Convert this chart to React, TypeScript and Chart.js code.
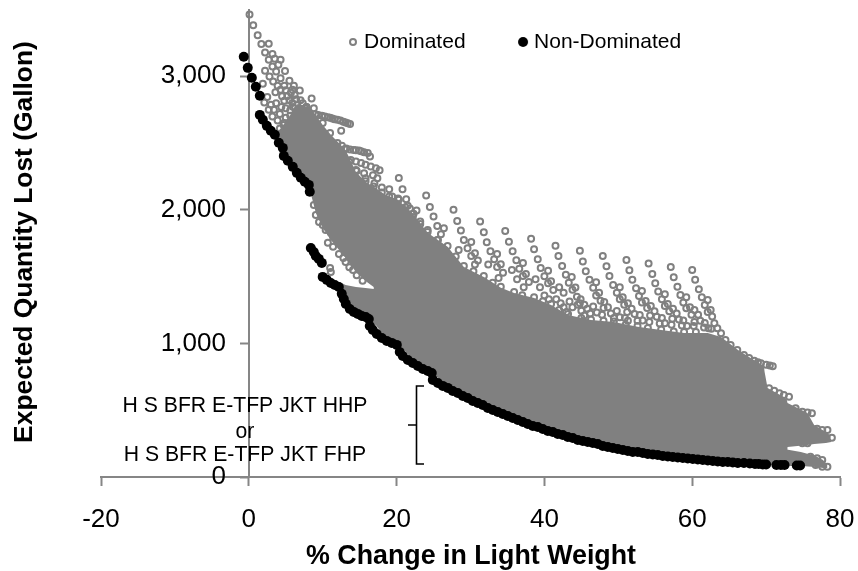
import React, { useEffect, useRef } from "react";
import { Chart, registerables } from "chart.js";

Chart.register(...registerables);

const xTickValues = [-20, 0, 20, 40, 60, 80];
const yTickValues = [0, 1000, 2000, 3000];
const FONT = '"Liberation Sans", Arial, sans-serif';
const GREY = "#868686";
const CLOUD = "#808080";

const nonDominated: number[][] = [
  [-0.68,3146],[-0.14,3063],[0.41,2989],[0.95,2921],[1.49,2854],[1.49,2711],[1.9,2674],[2.44,2629],[2.98,2592],[3.52,2562],
  [4.06,2502],[4.6,2464],[4.74,2404],[5.28,2367],[5.95,2322],[6.5,2277],[7.04,2240],[7.58,2210],[8.12,2187],[8.25,2135],
  [8.39,1715],[8.8,1685],[9.07,1655],[9.47,1633],[9.88,1603],[10.0,1498],[10.55,1476],[11.1,1453],[11.64,1438],[12.18,1423],
  [12.58,1371],[12.86,1333],[13.13,1296],[13.67,1258],[14.2,1236],[14.75,1221],[15.29,1206],[15.83,1198],[16.24,1183],
  [16.37,1131],[16.78,1101],[17.32,1071],[18,1041],[18.67,1019],[19.35,1004],[20.03,989],
  [20.43,936],[20.84,906],[21.52,876],[22.19,854],[22.87,831],[23.55,809],[24.22,794],[24.76,779],
  [24.9,727],[25.58,704],[26.25,682],[26.93,667],[27.6,644],[28.28,629],[28.96,607],[29.63,592],[30.31,569],[30.99,554],
  [31.66,539],[32.34,517],[33.02,502],[33.69,487],[34.37,472],[35.05,457],[35.72,442],[36.4,427],[37.08,412],[37.75,397],
  [38.43,382],[39.11,375],[39.78,360],[40.46,345],[41.14,337],[41.81,322],[42.49,315],[43.17,300],[43.84,292],[44.52,277],
  [45.2,270],[45.87,262],[46.55,255],[47.23,247],[47.9,232],[48.58,225],[49.26,217],[49.93,210],[50.61,202],[51.29,195],
  [51.96,187],[52.64,187],[53.32,180],[53.99,172],[54.67,169],[55.34,165],[56.02,157],[56.7,154],[57.37,150],[58.05,146],
  [58.73,142],[59.4,139],[60.08,135],[60.76,131],[61.43,127],[62.11,124],[62.79,120],[63.46,116],[64.14,112],[64.82,112],
  [65.49,109],[66.17,105],[67,105],[67.8,101],[68.5,97],[69,97],[69.55,94],[70,94],[71.4,90],[72,90],[72.5,90],[74.15,86],[74.6,86],
];

const leftCluster: number[][] = [
  [0.1,3463],[0.6,3383],[1.2,3308],[1.7,3241],[2.7,3243],[2.2,3178],[3.2,3166],[2.7,3123],[3.5,3131],[4.3,3123],
  [3.2,3073],[4.0,3086],[3.7,3036],[4.9,3039],[2.2,3041],[2.8,2998],[3.3,2961],[4.3,2986],[5.5,2966],[1.9,2944],
  [3.9,2929],[4.3,2899],[4.8,2929],[6.9,2893],[5.7,2876],[2.5,2844],[8.5,2833],[2.1,2803],[3.7,2799],[3.0,2786],
  [4.8,2816],[6.4,2829],[7.3,2799],[2.7,2749],[3.4,2749],[3.2,2699],[4.2,2717],[5.6,2704],[3.9,2669],[4.7,2636],
  [6.1,2579],[6.6,2661],[5.2,2850],[5.9,2800],[6.6,2750],[7.4,2720],[5.0,2760],[5.4,2650],[6.0,2620],[7.0,2600],
  [4.6,2580],[5.2,2540],[7.8,2690],[8.4,2650],[7.6,2560],[8.6,2540],[6.4,2480],[7.4,2440],[8.8,2760],[5.4,2480],
  [9.0,2480],[10.0,2420],[8.2,2400],[9.4,2360],[3.6,2880],[6.1,2930],[7.8,2770],[8.0,2615],[4.4,2770],[5.0,2690],
  [5.9,2900],[6.2,2860],[5.0,2895],[6.0,2770],[7.0,2820],[7.6,2760],[8.1,2720],[4.5,2850],[5.5,2820],[6.8,2700],[6.3,2720],[5.6,2745],[4.8,2650],[4.2,2610],
];

const tailRings: number[][] = [
  [9.4,2711],[9.9,2705],[10.3,2699],[10.7,2694],[11.0,2689],[11.3,2684],[11.6,2679],[12.0,2674],[12.4,2669],[12.8,2660],[13.1,2654],[13.4,2648],[13.7,2642],
  [12.5,2592],[12.6,2480],[13.2,2460],[13.7,2452],[14.2,2449],[14.5,2446],[14.9,2444],[15.2,2438],[15.6,2432],[16.1,2425],[16.4,2399],
  [13.8,2374],[14.5,2362],[15.2,2350],[15.8,2337],[16.5,2324],[17.2,2312],[17.7,2297],[14.5,2299],[15.6,2275],[15.8,2237],[17.4,2237],
  [18,2167],[19,2155],[20.3,2075],[22.7,1995],[16.8,2260],[17.0,2200],[19.4,2100],[21.5,2030],
];

const fanRings: number[][] = [
  [20.3,2239],[20.8,2155],[21.3,2080],[21.8,2010],[22.2,1947],[22.7,1887],[23.2,1912],
  [24.0,2107],[24.5,2022],[25.0,1950],[25.5,1880],[26,1818],[26.4,1862],[25.6,1775],[24.2,1850],
  [27.7,2000],[28.2,1917],[28.7,1845],[29.1,1775],[29.6,1713],[30.1,1760],[30.1,1655],[30.6,1675],[31.0,1620],[30.6,1590],
  [31.3,1912],[31.8,1833],[32.2,1758],[32.7,1690],[33.2,1630],[33.6,1670],[33.6,1573],[34.1,1593],[34.4,1530],[33.8,1490],
  [34.7,1842],[35.2,1762],[35.7,1690],[36.2,1623],[36.6,1560],[37.1,1603],[37.1,1505],[37.5,1520],[37.9,1460],[37.2,1420],
  [38.2,1783],[38.6,1705],[39.1,1630],[39.5,1565],[40,1503],[40.5,1545],[40.5,1451],[40.9,1466],[40,1358],[41.2,1400],[40.6,1330],
  [41.5,1732],[41.9,1655],[42.4,1580],[42.9,1515],[43.3,1455],[43.7,1498],[43.8,1401],[44.2,1418],[43.4,1313],[43.8,1271],[44.4,1350],[44.8,1300],
  [44.8,1693],[45.2,1613],[45.6,1541],[46.1,1476],[46.6,1416],[47,1458],[47,1358],[47.4,1380],[46.6,1276],[47.1,1231],[47.6,1320],[48,1265],
  [47.9,1655],[48.4,1578],[48.8,1505],[49.3,1438],[49.8,1380],[50.2,1421],[50.2,1331],[50.6,1346],[49.8,1243],[50.2,1196],[50.8,1290],[51.2,1235],
  [51.1,1625],[51.5,1548],[51.9,1476],[52.4,1413],[52.8,1356],[53.2,1393],[53.2,1306],[53.7,1318],[52.9,1213],[53.3,1171],[53.9,1265],[54.3,1210],
  [54.1,1598],[54.6,1520],[55,1451],[55.4,1388],[55.9,1331],[56.3,1368],[56.3,1281],[56.7,1296],[55.9,1191],[56.3,1151],[56.9,1240],[57.3,1185],
  [57.1,1573],[57.5,1496],[58,1425],[58.4,1363],[58.8,1306],[59.2,1346],[59.2,1263],[59.7,1271],[58.8,1171],[59.3,1131],[59.9,1215],[60.3,1160],
  [60,1550],[60.4,1476],[60.9,1406],[61.3,1346],[61.7,1288],[62.1,1326],[62.1,1236],[62.5,1251],[62.7,1201],[61.7,1153],[62.2,1114],[63,1151],[63.4,1114],[63.9,1076],
  [64.5,1026],[65.2,989],[66.1,951],[67,914],[67.7,890],[68.4,871],[68.9,860],[69.3,851],[70,841],[70.5,834],[70.9,829],
];

const lowerFanRings: number[][] = [
  [41.6,1330],[42.2,1300],[42.6,1270],[43.0,1235],[44.5,1290],[45,1245],[45.4,1210],
  [44.9,1330],[45.4,1290],[45.8,1260],[46.2,1225],[47.8,1215],
  [48.1,1310],[48.6,1270],[49,1225],[49.4,1190],[50.9,1190],[51.3,1170],
  [51.3,1300],[51.8,1260],[52.2,1220],[52.6,1170],[54.2,1160],
  [54.4,1280],[54.9,1240],[55.2,1200],[55.6,1150],[57.2,1140],
  [57.4,1260],[57.9,1225],[58.2,1180],[58.6,1135],[60.2,1130],
  [60.3,1250],[60.8,1215],[61.1,1170],[61.6,1120],[62.6,1110],
  [28.4,1700],[32.4,1590],[35.6,1550],[38.8,1480],[36.3,1480],[39.4,1420],[42,1420],[42.6,1380],
];

const rightTipRings: number[][] = [
  [70.4,664],[71.1,646],[71.8,627],[72.4,614],[73.1,601],
  [74,514],[74.9,489],[75.6,482],[76.2,477],
  [76.9,362],[77.6,352],[78.3,352],
  [76.5,307],[77.4,297],[78.2,294],[78.9,294],
  [73.8,264],[74.9,252],[75.6,252],
  [76,152],[76.9,140],[77.6,127],
  [76.7,90],[77.6,77],[78.3,77],
];

const edgeRings: number[][] = [
  [7.8,2770],[9,2715],[10,2650],[11,2575],[12,2500],[13,2455],[13.6,2360],[14.6,2290],[15.8,2215],[16.9,2175],[18,2130],[19,2100],[20.2,2085],
  [21.2,2020],[22.3,1970],[23.2,1895],[24.2,1835],[25.5,1775],[26.9,1730],[28,1650],[29.1,1580],[30.4,1540],[31.8,1505],[33,1455],[34.1,1425],
  [35.9,1385],[37,1360],[38.6,1345],[39.8,1315],[40.9,1295],[42,1250],[43.2,1220],[45,1190],[46.3,1180],[48,1170],[49.4,1165],[51,1140],[52.6,1130],
  [54,1115],[55.8,1105],[57.5,1090],[58.9,1085],[60.5,1085],
  [8.8,2037],[9.07,1962],[9.5,1910],[10,1887],[10.4,1850],[11.1,1828],[11.4,1798],[10.7,1753],[11.4,1723],[13.1,1610],[14.1,1550],[11,1565],[11.1,1535],
  [12.2,1670],[12.8,1640],[13.6,1570],[14.6,1510],[15.4,1470],
];

const massX = [3.65,5.0,6.63,8.12,9.07,10.0,11.1,13.1,14.5,15.8,16.9,16.98,18.5,20.2,22.3,24.2,26.9,29.1,31.8,34.1,35.9,38.6,40.9,43.2,46.3,49.4,52.6,55.8,58.9,62.1,63.9,66.2,67.9,69.7,69.8,70.2,72.4,72.8,72.9,75.6,76.5,78.1,78.8];
const massTop = [2562,2659,2794,2764,2711,2636,2562,2449,2284,2210,2172,2172,2112,2075,1962,1828,1723,1573,1498,1416,1378,1341,1288,1213,1176,1161,1124,1101,1079,1079,1049,951,891,831,786,667,599,577,554,479,390,337,277];
const massBottom = [2547,2434,2284,2180,1977,1865,1775,1640,1535,1468,1423,1153,1041,1004,869,801,689,622,532,464,427,375,345,307,270,217,187,165,150,127,120,105,97,90,90,90,82,82,225,240,247,255,262];

const bandX = [12.2,13.1,14.5,15.8,17.2];
const bandTop = [1461,1438,1423,1415,1405];
const bandBottom = [1438,1303,1221,1176,1090];

const tipX = [72.4,74.7,76.7,77.7,78.3];
const tipTop = [210,187,157,127,90];
const tipBottom = [82,82,75,67,67];

const annotationLines = ["H S BFR E-TFP JKT HHP", "or", "H S BFR E-TFP JKT FHP"];
const legendLabels = ["Dominated", "Non-Dominated"];
const xTitle = "% Change in Light Weight";
const yTitle = "Expected Quantity Lost (Gallon)";

const toPoints = (rows: number[][]) => rows.map(([x, y]) => ({ x, y }));
const zip = (xs: number[], ys: number[]) => xs.map((x, i) => ({ x, y: ys[i] }));
const dropScalePadding = (s: any) => {
  s.paddingLeft = 0;
  s.paddingRight = 0;
  s.paddingTop = 0;
  s.paddingBottom = 0;
};

function sprite(radius: number, hollow: boolean) {
  const size = Math.ceil(radius * 2 + 4);
  const c = document.createElement("canvas");
  c.width = size;
  c.height = size;
  const g = c.getContext("2d")!;
  g.beginPath();
  g.arc(size / 2, size / 2, radius, 0, Math.PI * 2);
  if (hollow) {
    g.strokeStyle = CLOUD;
    g.lineWidth = 2;
    g.stroke();
  } else {
    g.fillStyle = "#000";
    g.fill();
  }
  return c;
}

const placeLegend = {
  id: "placeLegend",
  afterLayout(chart: any) {
    const l = chart.legend;
    if (!l) return;
    l.left = 295.5;
    l.right = 858;
    l.top = -25.5;
    l.bottom = 100;
  },
};

const notes = {
  id: "notes",
  afterDraw(chart: any) {
    const { ctx } = chart;
    ctx.save();
    ctx.fillStyle = "#000";
    ctx.textBaseline = "middle";
    ctx.textAlign = "center";
    ctx.font = `21.2px ${FONT}`;
    ctx.fillText(annotationLines[0], 245, 406);
    ctx.fillText(annotationLines[1], 245, 432);
    ctx.fillText(annotationLines[2], 245, 455);
    ctx.font = `bold 26.8px ${FONT}`;
    ctx.fillText(xTitle, 471, 557);
    ctx.font = `bold 26.4px ${FONT}`;
    ctx.translate(25, 242);
    ctx.rotate(-Math.PI / 2);
    ctx.fillText(yTitle, 0, 0);
    ctx.restore();
    ctx.save();
    ctx.strokeStyle = "#000";
    ctx.lineWidth = 1.6;
    ctx.beginPath();
    ctx.moveTo(424, 386);
    ctx.lineTo(416.5, 386);
    ctx.lineTo(416.5, 464);
    ctx.lineTo(424, 464);
    ctx.moveTo(408, 425);
    ctx.lineTo(416.5, 425);
    ctx.stroke();
    ctx.restore();
  },
};

const edge = (data: any[], order: number, fill: any, label: string) => ({
  label,
  data,
  showLine: true,
  borderWidth: 0,
  pointRadius: 0,
  fill,
  backgroundColor: CLOUD,
  borderColor: CLOUD,
  order,
});

export default function App() {
  const ref = useRef<HTMLCanvasElement>(null);
  useEffect(() => {
    document.body.style.margin = "0";
    const ringIcon = sprite(3, true);
    const dotIcon = sprite(5, false);
    const chart = new Chart(ref.current!, {
      type: "line",
      data: {
        datasets: [
          {
            label: legendLabels[1],
            data: toPoints(nonDominated),
            showLine: false,
            pointRadius: 5,
            pointBackgroundColor: "#000",
            pointBorderWidth: 0,
            order: 0,
          },
          {
            label: legendLabels[0],
            data: toPoints([...leftCluster, ...tailRings, ...fanRings, ...lowerFanRings, ...rightTipRings, ...edgeRings]),
            showLine: false,
            pointRadius: 3,
            pointBackgroundColor: "transparent",
            pointBorderColor: CLOUD,
            pointBorderWidth: 2,
            order: 1,
          },
          edge(zip(massX, massTop), 2, "+1", "mass top"),
          edge(zip(massX, massBottom), 3, false, "mass bottom"),
          edge(zip(bandX, bandTop), 4, "+1", "band top"),
          edge(zip(bandX, bandBottom), 5, false, "band bottom"),
          edge(zip(tipX, tipTop), 6, "+1", "tip top"),
          edge(zip(tipX, tipBottom), 7, false, "tip bottom"),
        ] as any,
      },
      options: {
        responsive: false,
        animation: false,
        layout: { padding: { left: 101, right: 18, top: 8.5, bottom: 94 } },
        scales: {
          x: {
            type: "linear",
            min: -20,
            max: 80,
            position: { y: 0 } as any,
            afterBuildTicks: (s: any) => { s.ticks = xTickValues.map((value) => ({ value })); },
            afterFit: dropScalePadding,
            grid: { drawOnChartArea: false, tickLength: 8, tickColor: GREY, tickWidth: 2 },
            border: { color: GREY, width: 2 },
            ticks: { color: "#000", font: { family: FONT, size: 26 }, padding: 19, maxRotation: 0, autoSkip: false },
          },
          y: {
            type: "linear",
            min: 0,
            max: 3500,
            position: { x: 0 } as any,
            afterBuildTicks: (s: any) => { s.ticks = yTickValues.map((value) => ({ value })); },
            afterFit: dropScalePadding,
            grid: { drawOnChartArea: false, tickLength: 8, tickColor: GREY, tickWidth: 2 },
            border: { color: GREY, width: 2 },
            ticks: { display: false },
          },
          yLabels: {
            type: "linear",
            axis: "y",
            min: 0,
            max: 3500,
            position: { x: -3.1 } as any,
            afterBuildTicks: (s: any) => { s.ticks = yTickValues.map((value) => ({ value })); },
            afterFit: dropScalePadding,
            grid: { display: false, drawOnChartArea: false, drawTicks: false },
            border: { display: false },
            ticks: {
              color: "#000",
              font: { family: FONT, size: 26 },
              padding: 0,
              autoSkip: false,
              callback: (v: any) => Number(v).toLocaleString("en-US"),
            },
          },
        },
        plugins: {
          title: { display: false },
          tooltip: { enabled: false },
          legend: {
            position: "top",
            align: "start",
            maxHeight: 1,
            labels: {
              usePointStyle: true,
              pointStyleWidth: 1,
              padding: 57,
              color: "#000",
              font: { family: FONT, size: 21 },
              generateLabels: () => [
                { text: legendLabels[0], pointStyle: ringIcon, fillStyle: CLOUD, strokeStyle: CLOUD, lineWidth: 0, hidden: false, datasetIndex: 1 },
                { text: legendLabels[1], pointStyle: dotIcon, fillStyle: "#000", strokeStyle: "#000", lineWidth: 0, hidden: false, datasetIndex: 0 },
              ],
            } as any,
          },
        },
      } as any,
      plugins: [placeLegend, notes],
    });
    return () => chart.destroy();
  }, []);
  return <canvas ref={ref} width={858} height={571} style={{ display: "block" }} />;
}
